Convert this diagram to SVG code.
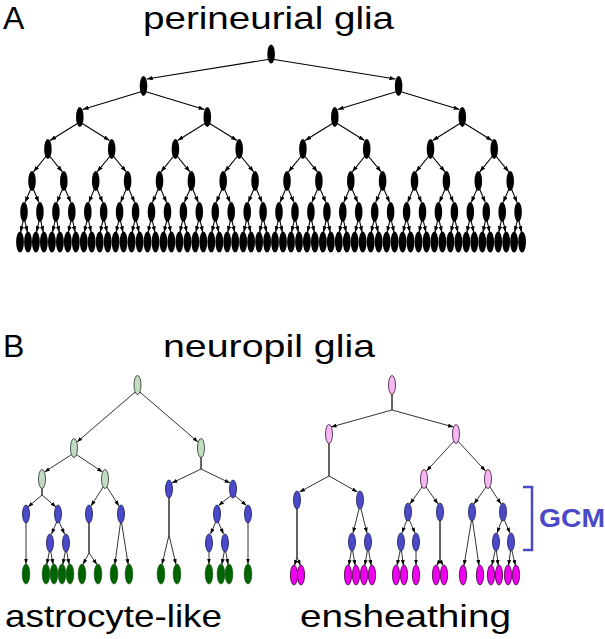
<svg xmlns="http://www.w3.org/2000/svg" width="605" height="639" viewBox="0 0 605 639">
<style>
.t{font-family:"Liberation Sans",Arial,sans-serif;font-size:32px;fill:#000}
.gcm{font-family:"Liberation Sans",Arial,sans-serif;font-size:26px;font-weight:bold;fill:#4a4ac8}
.ea line{stroke:#000;stroke-width:1.1;marker-end:url(#ah)}
.eb line,.eb polyline{stroke:#333;stroke-width:1;fill:none;marker-end:url(#ab)}
.k ellipse{fill:#000}
.lg{fill:#c2dbc2;stroke:#223322;stroke-width:0.8}
.dg{fill:#006400;stroke:#004400;stroke-width:0.6}
.bl{fill:#4a4ac8;stroke:#1a1a50;stroke-width:0.8}
.pk{fill:#f5b8f2;stroke:#331133;stroke-width:0.8}
.mg{fill:#f000f0;stroke:#330033;stroke-width:0.8}
</style>
<defs>
<marker id="ah" viewBox="0 0 6 4.4" refX="6" refY="2.2" markerWidth="6" markerHeight="4.4" markerUnits="userSpaceOnUse" orient="auto"><path d="M0,0L6,2.2L0,4.4z" fill="#000"/></marker>
<marker id="ab" viewBox="0 0 5.5 4" refX="5.5" refY="2" markerWidth="5.5" markerHeight="4" markerUnits="userSpaceOnUse" orient="auto"><path d="M0,0L5.5,2L0,4z" fill="#000"/></marker>
</defs>

<text class="t" x="3" y="29">A</text>
<text class="t" x="143" y="29" textLength="251" lengthAdjust="spacingAndGlyphs">perineurial glia</text>
<text class="t" x="3" y="357">B</text>
<text class="t" x="163" y="357" textLength="212" lengthAdjust="spacingAndGlyphs">neuropil glia</text>
<text class="t" x="5" y="627" textLength="217" lengthAdjust="spacingAndGlyphs">astrocyte-like</text>
<text class="t" x="300" y="627" textLength="211" lengthAdjust="spacingAndGlyphs">ensheathing</text>

<g id="connectors-a" class="ea">
<line x1="271.1" y1="59" x2="146.7" y2="79"/><line x1="271.1" y1="59" x2="395.4" y2="79"/>
<line x1="143.5" y1="91" x2="82.6" y2="109.5"/><line x1="143.5" y1="91" x2="204.5" y2="109.5"/><line x1="398.6" y1="91" x2="337.6" y2="109.5"/><line x1="398.6" y1="91" x2="459.5" y2="109.5"/>
<line x1="79.8" y1="122" x2="50.1" y2="140.5"/><line x1="79.8" y1="122" x2="109.5" y2="140.5"/><line x1="207.3" y1="122" x2="177.6" y2="140.5"/><line x1="207.3" y1="122" x2="237" y2="140.5"/><line x1="334.8" y1="122" x2="305.1" y2="140.5"/><line x1="334.8" y1="122" x2="364.5" y2="140.5"/><line x1="462.3" y1="122" x2="432.7" y2="140.5"/><line x1="462.3" y1="122" x2="492" y2="140.5"/>
<line x1="47.9" y1="154" x2="33.5" y2="171.8"/><line x1="47.9" y1="154" x2="62.3" y2="171.8"/><line x1="111.7" y1="154" x2="97.2" y2="171.8"/><line x1="111.7" y1="154" x2="126.1" y2="171.8"/><line x1="175.4" y1="154" x2="161" y2="171.8"/><line x1="175.4" y1="154" x2="189.9" y2="171.8"/><line x1="239.2" y1="154" x2="224.7" y2="171.8"/><line x1="239.2" y1="154" x2="253.6" y2="171.8"/><line x1="302.9" y1="154" x2="288.5" y2="171.8"/><line x1="302.9" y1="154" x2="317.4" y2="171.8"/><line x1="366.7" y1="154" x2="352.3" y2="171.8"/><line x1="366.7" y1="154" x2="381.1" y2="171.8"/><line x1="430.5" y1="154" x2="416" y2="171.8"/><line x1="430.5" y1="154" x2="444.9" y2="171.8"/><line x1="494.2" y1="154" x2="479.8" y2="171.8"/><line x1="494.2" y1="154" x2="508.7" y2="171.8"/>
<line x1="32" y1="186" x2="25" y2="202.4"/><line x1="32" y1="186" x2="38.9" y2="202.4"/><line x1="63.8" y1="186" x2="56.9" y2="202.4"/><line x1="63.8" y1="186" x2="70.8" y2="202.4"/><line x1="95.7" y1="186" x2="88.8" y2="202.4"/><line x1="95.7" y1="186" x2="102.7" y2="202.4"/><line x1="127.6" y1="186" x2="120.6" y2="202.4"/><line x1="127.6" y1="186" x2="134.6" y2="202.4"/><line x1="159.5" y1="186" x2="152.5" y2="202.4"/><line x1="159.5" y1="186" x2="166.5" y2="202.4"/><line x1="191.4" y1="186" x2="184.4" y2="202.4"/><line x1="191.4" y1="186" x2="198.3" y2="202.4"/><line x1="223.2" y1="186" x2="216.3" y2="202.4"/><line x1="223.2" y1="186" x2="230.2" y2="202.4"/><line x1="255.1" y1="186" x2="248.2" y2="202.4"/><line x1="255.1" y1="186" x2="262.1" y2="202.4"/><line x1="287" y1="186" x2="280" y2="202.4"/><line x1="287" y1="186" x2="294" y2="202.4"/><line x1="318.9" y1="186" x2="311.9" y2="202.4"/><line x1="318.9" y1="186" x2="325.9" y2="202.4"/><line x1="350.8" y1="186" x2="343.8" y2="202.4"/><line x1="350.8" y1="186" x2="357.7" y2="202.4"/><line x1="382.6" y1="186" x2="375.7" y2="202.4"/><line x1="382.6" y1="186" x2="389.6" y2="202.4"/><line x1="414.5" y1="186" x2="407.6" y2="202.4"/><line x1="414.5" y1="186" x2="421.5" y2="202.4"/><line x1="446.4" y1="186" x2="439.4" y2="202.4"/><line x1="446.4" y1="186" x2="453.4" y2="202.4"/><line x1="478.3" y1="186" x2="471.3" y2="202.4"/><line x1="478.3" y1="186" x2="485.3" y2="202.4"/><line x1="510.2" y1="186" x2="503.2" y2="202.4"/><line x1="510.2" y1="186" x2="517.1" y2="202.4"/>
<line x1="24" y1="217" x2="20.6" y2="232.2"/><line x1="24" y1="217" x2="27.4" y2="232.2"/><line x1="39.9" y1="217" x2="36.5" y2="232.2"/><line x1="39.9" y1="217" x2="43.3" y2="232.2"/><line x1="55.9" y1="217" x2="52.5" y2="232.2"/><line x1="55.9" y1="217" x2="59.3" y2="232.2"/><line x1="71.8" y1="217" x2="68.4" y2="232.2"/><line x1="71.8" y1="217" x2="75.2" y2="232.2"/><line x1="87.8" y1="217" x2="84.4" y2="232.2"/><line x1="87.8" y1="217" x2="91.1" y2="232.2"/><line x1="103.7" y1="217" x2="100.3" y2="232.2"/><line x1="103.7" y1="217" x2="107.1" y2="232.2"/><line x1="119.6" y1="217" x2="116.2" y2="232.2"/><line x1="119.6" y1="217" x2="123" y2="232.2"/><line x1="135.6" y1="217" x2="132.2" y2="232.2"/><line x1="135.6" y1="217" x2="139" y2="232.2"/><line x1="151.5" y1="217" x2="148.1" y2="232.2"/><line x1="151.5" y1="217" x2="154.9" y2="232.2"/><line x1="167.5" y1="217" x2="164.1" y2="232.2"/><line x1="167.5" y1="217" x2="170.8" y2="232.2"/><line x1="183.4" y1="217" x2="180" y2="232.2"/><line x1="183.4" y1="217" x2="186.8" y2="232.2"/><line x1="199.3" y1="217" x2="195.9" y2="232.2"/><line x1="199.3" y1="217" x2="202.7" y2="232.2"/><line x1="215.3" y1="217" x2="211.9" y2="232.2"/><line x1="215.3" y1="217" x2="218.7" y2="232.2"/><line x1="231.2" y1="217" x2="227.8" y2="232.2"/><line x1="231.2" y1="217" x2="234.6" y2="232.2"/><line x1="247.2" y1="217" x2="243.8" y2="232.2"/><line x1="247.2" y1="217" x2="250.5" y2="232.2"/><line x1="263.1" y1="217" x2="259.7" y2="232.2"/><line x1="263.1" y1="217" x2="266.5" y2="232.2"/><line x1="279" y1="217" x2="275.6" y2="232.2"/><line x1="279" y1="217" x2="282.4" y2="232.2"/><line x1="295" y1="217" x2="291.6" y2="232.2"/><line x1="295" y1="217" x2="298.4" y2="232.2"/><line x1="310.9" y1="217" x2="307.5" y2="232.2"/><line x1="310.9" y1="217" x2="314.3" y2="232.2"/><line x1="326.9" y1="217" x2="323.5" y2="232.2"/><line x1="326.9" y1="217" x2="330.2" y2="232.2"/><line x1="342.8" y1="217" x2="339.4" y2="232.2"/><line x1="342.8" y1="217" x2="346.2" y2="232.2"/><line x1="358.7" y1="217" x2="355.3" y2="232.2"/><line x1="358.7" y1="217" x2="362.1" y2="232.2"/><line x1="374.7" y1="217" x2="371.3" y2="232.2"/><line x1="374.7" y1="217" x2="378.1" y2="232.2"/><line x1="390.6" y1="217" x2="387.2" y2="232.2"/><line x1="390.6" y1="217" x2="394" y2="232.2"/><line x1="406.6" y1="217" x2="403.2" y2="232.2"/><line x1="406.6" y1="217" x2="409.9" y2="232.2"/><line x1="422.5" y1="217" x2="419.1" y2="232.2"/><line x1="422.5" y1="217" x2="425.9" y2="232.2"/><line x1="438.4" y1="217" x2="435" y2="232.2"/><line x1="438.4" y1="217" x2="441.8" y2="232.2"/><line x1="454.4" y1="217" x2="451" y2="232.2"/><line x1="454.4" y1="217" x2="457.8" y2="232.2"/><line x1="470.3" y1="217" x2="466.9" y2="232.2"/><line x1="470.3" y1="217" x2="473.7" y2="232.2"/><line x1="486.3" y1="217" x2="482.9" y2="232.2"/><line x1="486.3" y1="217" x2="489.6" y2="232.2"/><line x1="502.2" y1="217" x2="498.8" y2="232.2"/><line x1="502.2" y1="217" x2="505.6" y2="232.2"/><line x1="518.1" y1="217" x2="514.7" y2="232.2"/><line x1="518.1" y1="217" x2="521.5" y2="232.2"/>
</g>

<g id="nodes-a" class="k">
<g id="a0"><ellipse cx="271.1" cy="54" rx="3.8" ry="9.5"/></g>
<g id="a1-0"><ellipse cx="143.5" cy="86" rx="3.8" ry="10"/></g><g id="a1-1"><ellipse cx="398.6" cy="86" rx="3.8" ry="10"/></g>
<g id="a2-0"><ellipse cx="79.8" cy="117" rx="3.8" ry="10"/></g><g id="a2-1"><ellipse cx="207.3" cy="117" rx="3.8" ry="10"/></g><g id="a2-2"><ellipse cx="334.8" cy="117" rx="3.8" ry="10"/></g><g id="a2-3"><ellipse cx="462.3" cy="117" rx="3.8" ry="10"/></g>
<g id="a3-0"><ellipse cx="47.9" cy="149" rx="3.8" ry="10"/></g><g id="a3-1"><ellipse cx="111.7" cy="149" rx="3.8" ry="10"/></g><g id="a3-2"><ellipse cx="175.4" cy="149" rx="3.8" ry="10"/></g><g id="a3-3"><ellipse cx="239.2" cy="149" rx="3.8" ry="10"/></g><g id="a3-4"><ellipse cx="302.9" cy="149" rx="3.8" ry="10"/></g><g id="a3-5"><ellipse cx="366.7" cy="149" rx="3.8" ry="10"/></g><g id="a3-6"><ellipse cx="430.5" cy="149" rx="3.8" ry="10"/></g><g id="a3-7"><ellipse cx="494.2" cy="149" rx="3.8" ry="10"/></g>
<g id="a4-0"><ellipse cx="32" cy="181" rx="3.8" ry="10"/></g><g id="a4-1"><ellipse cx="63.8" cy="181" rx="3.8" ry="10"/></g><g id="a4-2"><ellipse cx="95.7" cy="181" rx="3.8" ry="10"/></g><g id="a4-3"><ellipse cx="127.6" cy="181" rx="3.8" ry="10"/></g><g id="a4-4"><ellipse cx="159.5" cy="181" rx="3.8" ry="10"/></g><g id="a4-5"><ellipse cx="191.4" cy="181" rx="3.8" ry="10"/></g><g id="a4-6"><ellipse cx="223.2" cy="181" rx="3.8" ry="10"/></g><g id="a4-7"><ellipse cx="255.1" cy="181" rx="3.8" ry="10"/></g><g id="a4-8"><ellipse cx="287" cy="181" rx="3.8" ry="10"/></g><g id="a4-9"><ellipse cx="318.9" cy="181" rx="3.8" ry="10"/></g><g id="a4-10"><ellipse cx="350.8" cy="181" rx="3.8" ry="10"/></g><g id="a4-11"><ellipse cx="382.6" cy="181" rx="3.8" ry="10"/></g><g id="a4-12"><ellipse cx="414.5" cy="181" rx="3.8" ry="10"/></g><g id="a4-13"><ellipse cx="446.4" cy="181" rx="3.8" ry="10"/></g><g id="a4-14"><ellipse cx="478.3" cy="181" rx="3.8" ry="10"/></g><g id="a4-15"><ellipse cx="510.2" cy="181" rx="3.8" ry="10"/></g>
<g id="a5-0"><ellipse cx="24" cy="212" rx="3.8" ry="10"/></g><g id="a5-1"><ellipse cx="39.9" cy="212" rx="3.8" ry="10"/></g><g id="a5-2"><ellipse cx="55.9" cy="212" rx="3.8" ry="10"/></g><g id="a5-3"><ellipse cx="71.8" cy="212" rx="3.8" ry="10"/></g><g id="a5-4"><ellipse cx="87.8" cy="212" rx="3.8" ry="10"/></g><g id="a5-5"><ellipse cx="103.7" cy="212" rx="3.8" ry="10"/></g><g id="a5-6"><ellipse cx="119.6" cy="212" rx="3.8" ry="10"/></g><g id="a5-7"><ellipse cx="135.6" cy="212" rx="3.8" ry="10"/></g><g id="a5-8"><ellipse cx="151.5" cy="212" rx="3.8" ry="10"/></g><g id="a5-9"><ellipse cx="167.5" cy="212" rx="3.8" ry="10"/></g><g id="a5-10"><ellipse cx="183.4" cy="212" rx="3.8" ry="10"/></g><g id="a5-11"><ellipse cx="199.3" cy="212" rx="3.8" ry="10"/></g><g id="a5-12"><ellipse cx="215.3" cy="212" rx="3.8" ry="10"/></g><g id="a5-13"><ellipse cx="231.2" cy="212" rx="3.8" ry="10"/></g><g id="a5-14"><ellipse cx="247.2" cy="212" rx="3.8" ry="10"/></g><g id="a5-15"><ellipse cx="263.1" cy="212" rx="3.8" ry="10"/></g><g id="a5-16"><ellipse cx="279" cy="212" rx="3.8" ry="10"/></g><g id="a5-17"><ellipse cx="295" cy="212" rx="3.8" ry="10"/></g><g id="a5-18"><ellipse cx="310.9" cy="212" rx="3.8" ry="10"/></g><g id="a5-19"><ellipse cx="326.9" cy="212" rx="3.8" ry="10"/></g><g id="a5-20"><ellipse cx="342.8" cy="212" rx="3.8" ry="10"/></g><g id="a5-21"><ellipse cx="358.7" cy="212" rx="3.8" ry="10"/></g><g id="a5-22"><ellipse cx="374.7" cy="212" rx="3.8" ry="10"/></g><g id="a5-23"><ellipse cx="390.6" cy="212" rx="3.8" ry="10"/></g><g id="a5-24"><ellipse cx="406.6" cy="212" rx="3.8" ry="10"/></g><g id="a5-25"><ellipse cx="422.5" cy="212" rx="3.8" ry="10"/></g><g id="a5-26"><ellipse cx="438.4" cy="212" rx="3.8" ry="10"/></g><g id="a5-27"><ellipse cx="454.4" cy="212" rx="3.8" ry="10"/></g><g id="a5-28"><ellipse cx="470.3" cy="212" rx="3.8" ry="10"/></g><g id="a5-29"><ellipse cx="486.3" cy="212" rx="3.8" ry="10"/></g><g id="a5-30"><ellipse cx="502.2" cy="212" rx="3.8" ry="10"/></g><g id="a5-31"><ellipse cx="518.1" cy="212" rx="3.8" ry="10"/></g>
<g id="a6-0"><ellipse cx="20" cy="242" rx="3.9" ry="10.5"/></g><g id="a6-1"><ellipse cx="28" cy="242" rx="3.9" ry="10.5"/></g><g id="a6-2"><ellipse cx="35.9" cy="242" rx="3.9" ry="10.5"/></g><g id="a6-3"><ellipse cx="43.9" cy="242" rx="3.9" ry="10.5"/></g><g id="a6-4"><ellipse cx="51.9" cy="242" rx="3.9" ry="10.5"/></g><g id="a6-5"><ellipse cx="59.9" cy="242" rx="3.9" ry="10.5"/></g><g id="a6-6"><ellipse cx="67.8" cy="242" rx="3.9" ry="10.5"/></g><g id="a6-7"><ellipse cx="75.8" cy="242" rx="3.9" ry="10.5"/></g><g id="a6-8"><ellipse cx="83.8" cy="242" rx="3.9" ry="10.5"/></g><g id="a6-9"><ellipse cx="91.7" cy="242" rx="3.9" ry="10.5"/></g><g id="a6-10"><ellipse cx="99.7" cy="242" rx="3.9" ry="10.5"/></g><g id="a6-11"><ellipse cx="107.7" cy="242" rx="3.9" ry="10.5"/></g><g id="a6-12"><ellipse cx="115.6" cy="242" rx="3.9" ry="10.5"/></g><g id="a6-13"><ellipse cx="123.6" cy="242" rx="3.9" ry="10.5"/></g><g id="a6-14"><ellipse cx="131.6" cy="242" rx="3.9" ry="10.5"/></g><g id="a6-15"><ellipse cx="139.6" cy="242" rx="3.9" ry="10.5"/></g><g id="a6-16"><ellipse cx="147.5" cy="242" rx="3.9" ry="10.5"/></g><g id="a6-17"><ellipse cx="155.5" cy="242" rx="3.9" ry="10.5"/></g><g id="a6-18"><ellipse cx="163.5" cy="242" rx="3.9" ry="10.5"/></g><g id="a6-19"><ellipse cx="171.4" cy="242" rx="3.9" ry="10.5"/></g><g id="a6-20"><ellipse cx="179.4" cy="242" rx="3.9" ry="10.5"/></g><g id="a6-21"><ellipse cx="187.4" cy="242" rx="3.9" ry="10.5"/></g><g id="a6-22"><ellipse cx="195.3" cy="242" rx="3.9" ry="10.5"/></g><g id="a6-23"><ellipse cx="203.3" cy="242" rx="3.9" ry="10.5"/></g><g id="a6-24"><ellipse cx="211.3" cy="242" rx="3.9" ry="10.5"/></g><g id="a6-25"><ellipse cx="219.3" cy="242" rx="3.9" ry="10.5"/></g><g id="a6-26"><ellipse cx="227.2" cy="242" rx="3.9" ry="10.5"/></g><g id="a6-27"><ellipse cx="235.2" cy="242" rx="3.9" ry="10.5"/></g><g id="a6-28"><ellipse cx="243.2" cy="242" rx="3.9" ry="10.5"/></g><g id="a6-29"><ellipse cx="251.1" cy="242" rx="3.9" ry="10.5"/></g><g id="a6-30"><ellipse cx="259.1" cy="242" rx="3.9" ry="10.5"/></g><g id="a6-31"><ellipse cx="267.1" cy="242" rx="3.9" ry="10.5"/></g><g id="a6-32"><ellipse cx="275" cy="242" rx="3.9" ry="10.5"/></g><g id="a6-33"><ellipse cx="283" cy="242" rx="3.9" ry="10.5"/></g><g id="a6-34"><ellipse cx="291" cy="242" rx="3.9" ry="10.5"/></g><g id="a6-35"><ellipse cx="299" cy="242" rx="3.9" ry="10.5"/></g><g id="a6-36"><ellipse cx="306.9" cy="242" rx="3.9" ry="10.5"/></g><g id="a6-37"><ellipse cx="314.9" cy="242" rx="3.9" ry="10.5"/></g><g id="a6-38"><ellipse cx="322.9" cy="242" rx="3.9" ry="10.5"/></g><g id="a6-39"><ellipse cx="330.8" cy="242" rx="3.9" ry="10.5"/></g><g id="a6-40"><ellipse cx="338.8" cy="242" rx="3.9" ry="10.5"/></g><g id="a6-41"><ellipse cx="346.8" cy="242" rx="3.9" ry="10.5"/></g><g id="a6-42"><ellipse cx="354.7" cy="242" rx="3.9" ry="10.5"/></g><g id="a6-43"><ellipse cx="362.7" cy="242" rx="3.9" ry="10.5"/></g><g id="a6-44"><ellipse cx="370.7" cy="242" rx="3.9" ry="10.5"/></g><g id="a6-45"><ellipse cx="378.7" cy="242" rx="3.9" ry="10.5"/></g><g id="a6-46"><ellipse cx="386.6" cy="242" rx="3.9" ry="10.5"/></g><g id="a6-47"><ellipse cx="394.6" cy="242" rx="3.9" ry="10.5"/></g><g id="a6-48"><ellipse cx="402.6" cy="242" rx="3.9" ry="10.5"/></g><g id="a6-49"><ellipse cx="410.5" cy="242" rx="3.9" ry="10.5"/></g><g id="a6-50"><ellipse cx="418.5" cy="242" rx="3.9" ry="10.5"/></g><g id="a6-51"><ellipse cx="426.5" cy="242" rx="3.9" ry="10.5"/></g><g id="a6-52"><ellipse cx="434.4" cy="242" rx="3.9" ry="10.5"/></g><g id="a6-53"><ellipse cx="442.4" cy="242" rx="3.9" ry="10.5"/></g><g id="a6-54"><ellipse cx="450.4" cy="242" rx="3.9" ry="10.5"/></g><g id="a6-55"><ellipse cx="458.4" cy="242" rx="3.9" ry="10.5"/></g><g id="a6-56"><ellipse cx="466.3" cy="242" rx="3.9" ry="10.5"/></g><g id="a6-57"><ellipse cx="474.3" cy="242" rx="3.9" ry="10.5"/></g><g id="a6-58"><ellipse cx="482.3" cy="242" rx="3.9" ry="10.5"/></g><g id="a6-59"><ellipse cx="490.2" cy="242" rx="3.9" ry="10.5"/></g><g id="a6-60"><ellipse cx="498.2" cy="242" rx="3.9" ry="10.5"/></g><g id="a6-61"><ellipse cx="506.2" cy="242" rx="3.9" ry="10.5"/></g><g id="a6-62"><ellipse cx="514.1" cy="242" rx="3.9" ry="10.5"/></g><g id="a6-63"><ellipse cx="522.1" cy="242" rx="3.9" ry="10.5"/></g>
</g>

<g id="connectors-b" class="eb">
<line x1="137.5" y1="390" x2="77" y2="442"/>
<line x1="137.5" y1="390" x2="198" y2="442"/>
<line x1="74" y1="453" x2="44.5" y2="472"/>
<line x1="74" y1="453" x2="102.5" y2="472"/>
<polyline points="201,453 201,469 172,483"/>
<polyline points="201,453 201,469 230,483"/>
<polyline points="42,484 42,495 28,507"/>
<polyline points="42,484 42,495 56,507"/>
<line x1="105" y1="484" x2="91" y2="506"/>
<line x1="105" y1="484" x2="119" y2="506"/>
<line x1="26" y1="519" x2="26" y2="564"/>
<line x1="58" y1="519" x2="51.5" y2="534"/>
<line x1="58" y1="519" x2="64.5" y2="534"/>
<line x1="50" y1="548" x2="46.8" y2="564.5"/>
<line x1="50" y1="548" x2="53.2" y2="564.5"/>
<line x1="66" y1="548" x2="62.8" y2="564.5"/>
<line x1="66" y1="548" x2="69.2" y2="564.5"/>
<polyline points="89,519 89,553 83,564.5"/>
<polyline points="89,519 89,553 97,564.5"/>
<line x1="121" y1="519" x2="114.8" y2="564.5"/>
<line x1="121" y1="519" x2="128.2" y2="564.5"/>
<polyline points="169,494 169,535 162,564.5"/>
<polyline points="169,494 169,535 176,564.5"/>
<line x1="233" y1="494" x2="218.5" y2="505.5"/>
<line x1="233" y1="494" x2="246.5" y2="505.5"/>
<line x1="217" y1="519" x2="210.5" y2="534"/>
<line x1="217" y1="519" x2="223.5" y2="534"/>
<line x1="209" y1="548" x2="209" y2="564"/>
<line x1="225" y1="548" x2="221.8" y2="564.5"/>
<line x1="225" y1="548" x2="228.2" y2="564.5"/>
<line x1="248" y1="519" x2="248" y2="564"/>
<polyline points="392,390 392,410 331,427"/>
<polyline points="392,390 392,410 453.5,427"/>
<polyline points="329,439 329,476 299.5,492"/>
<polyline points="329,439 329,476 357.5,492"/>
<line x1="456" y1="439" x2="426.5" y2="471"/>
<line x1="456" y1="439" x2="485.5" y2="471"/>
<line x1="424" y1="484" x2="410" y2="504"/>
<line x1="424" y1="484" x2="438" y2="504"/>
<line x1="488" y1="484" x2="474" y2="504"/>
<line x1="488" y1="484" x2="501" y2="504"/>
<polyline points="297,505 297,557 294.5,565.5"/>
<polyline points="297,505 297,557 300.5,565.5"/>
<line x1="360" y1="505" x2="353" y2="533"/>
<line x1="360" y1="505" x2="367" y2="533"/>
<line x1="352" y1="547" x2="348.8" y2="565.5"/>
<line x1="352" y1="547" x2="355.2" y2="565.5"/>
<line x1="368" y1="547" x2="364.8" y2="565.5"/>
<line x1="368" y1="547" x2="371.2" y2="565.5"/>
<line x1="408" y1="517" x2="402" y2="533"/>
<line x1="408" y1="517" x2="415" y2="533"/>
<line x1="401" y1="547" x2="397" y2="565.5"/>
<line x1="401" y1="547" x2="403.4" y2="565.5"/>
<line x1="416" y1="547" x2="416" y2="565"/>
<polyline points="440,517 440,560 436.8,565.5"/>
<polyline points="440,517 440,560 443.2,565.5"/>
<line x1="472" y1="517" x2="464" y2="565.5"/>
<line x1="472" y1="517" x2="479" y2="565.5"/>
<line x1="503" y1="517" x2="497" y2="533"/>
<line x1="503" y1="517" x2="510" y2="533"/>
<line x1="496" y1="547" x2="491.8" y2="565.5"/>
<line x1="496" y1="547" x2="498.2" y2="565.5"/>
<line x1="511" y1="547" x2="508.6" y2="565.5"/>
<line x1="511" y1="547" x2="515.4" y2="565.5"/>
</g>

<g id="nodes-b">
<g id="g0"><ellipse class="lg" cx="137.5" cy="385" rx="3.5" ry="9.5"/></g>
<g id="g1a"><ellipse class="lg" cx="74" cy="448" rx="3.5" ry="9.5"/></g>
<g id="g1b"><ellipse class="lg" cx="201" cy="448" rx="3.5" ry="9.5"/></g>
<g id="g2a"><ellipse class="lg" cx="42" cy="479" rx="3.5" ry="9.5"/></g>
<g id="g2b"><ellipse class="lg" cx="105" cy="479" rx="3.5" ry="9.5"/></g>
<g id="ab1"><ellipse class="bl" cx="26" cy="514" rx="3.5" ry="9"/></g>
<g id="ab2"><ellipse class="bl" cx="58" cy="514" rx="3.5" ry="9"/></g>
<g id="ab3"><ellipse class="bl" cx="89" cy="514" rx="3.5" ry="9"/></g>
<g id="ab4"><ellipse class="bl" cx="121" cy="514" rx="3.5" ry="9"/></g>
<g id="ab5"><ellipse class="bl" cx="169" cy="489" rx="3.5" ry="9"/></g>
<g id="ab6"><ellipse class="bl" cx="233" cy="489" rx="3.5" ry="9"/></g>
<g id="ab7"><ellipse class="bl" cx="217" cy="514" rx="3.5" ry="9"/></g>
<g id="ab8"><ellipse class="bl" cx="248" cy="514" rx="3.5" ry="9"/></g>
<g id="ab9"><ellipse class="bl" cx="50" cy="543" rx="3.5" ry="9"/></g>
<g id="ab10"><ellipse class="bl" cx="66" cy="543" rx="3.5" ry="9"/></g>
<g id="ab11"><ellipse class="bl" cx="209" cy="543" rx="3.5" ry="9"/></g>
<g id="ab12"><ellipse class="bl" cx="225" cy="543" rx="3.5" ry="9"/></g>
<g id="al1"><ellipse class="dg" cx="26" cy="574" rx="3.8" ry="10"/></g>
<g id="al2"><ellipse class="dg" cx="46" cy="574" rx="3.8" ry="10"/></g>
<g id="al3"><ellipse class="dg" cx="54" cy="574" rx="3.8" ry="10"/></g>
<g id="al4"><ellipse class="dg" cx="62" cy="574" rx="3.8" ry="10"/></g>
<g id="al5"><ellipse class="dg" cx="70" cy="574" rx="3.8" ry="10"/></g>
<g id="al6"><ellipse class="dg" cx="82" cy="574" rx="3.8" ry="10"/></g>
<g id="al7"><ellipse class="dg" cx="98" cy="574" rx="3.8" ry="10"/></g>
<g id="al8"><ellipse class="dg" cx="114" cy="574" rx="3.8" ry="10"/></g>
<g id="al9"><ellipse class="dg" cx="129" cy="574" rx="3.8" ry="10"/></g>
<g id="al10"><ellipse class="dg" cx="161" cy="574" rx="3.8" ry="10"/></g>
<g id="al11"><ellipse class="dg" cx="177" cy="574" rx="3.8" ry="10"/></g>
<g id="al12"><ellipse class="dg" cx="209" cy="574" rx="3.8" ry="10"/></g>
<g id="al13"><ellipse class="dg" cx="221" cy="574" rx="3.8" ry="10"/></g>
<g id="al14"><ellipse class="dg" cx="229" cy="574" rx="3.8" ry="10"/></g>
<g id="al15"><ellipse class="dg" cx="248" cy="574" rx="3.8" ry="10"/></g>

<g id="p0"><ellipse class="pk" cx="392" cy="385" rx="3.5" ry="9.5"/></g>
<g id="p1a"><ellipse class="pk" cx="329" cy="434" rx="3.5" ry="9.5"/></g>
<g id="p1b"><ellipse class="pk" cx="456" cy="434" rx="3.5" ry="9.5"/></g>
<g id="p2a"><ellipse class="pk" cx="424" cy="479" rx="3.5" ry="9.5"/></g>
<g id="p2b"><ellipse class="pk" cx="488" cy="479" rx="3.5" ry="9.5"/></g>
<g id="eb1"><ellipse class="bl" cx="297" cy="500" rx="3.5" ry="9"/></g>
<g id="eb2"><ellipse class="bl" cx="360" cy="500" rx="3.5" ry="9"/></g>
<g id="eb3"><ellipse class="bl" cx="408" cy="512" rx="3.5" ry="9"/></g>
<g id="eb4"><ellipse class="bl" cx="440" cy="512" rx="3.5" ry="9"/></g>
<g id="eb5"><ellipse class="bl" cx="472" cy="512" rx="3.5" ry="9"/></g>
<g id="eb6"><ellipse class="bl" cx="503" cy="512" rx="3.5" ry="9"/></g>
<g id="eb7"><ellipse class="bl" cx="352" cy="542" rx="3.5" ry="9"/></g>
<g id="eb8"><ellipse class="bl" cx="368" cy="542" rx="3.5" ry="9"/></g>
<g id="eb9"><ellipse class="bl" cx="401" cy="542" rx="3.5" ry="9"/></g>
<g id="eb10"><ellipse class="bl" cx="416" cy="542" rx="3.5" ry="9"/></g>
<g id="eb11"><ellipse class="bl" cx="496" cy="542" rx="3.5" ry="9"/></g>
<g id="eb12"><ellipse class="bl" cx="511" cy="542" rx="3.5" ry="9"/></g>
<g id="el1"><ellipse class="mg" cx="294" cy="575" rx="3.6" ry="10"/></g>
<g id="el2"><ellipse class="mg" cx="301" cy="575" rx="3.6" ry="10"/></g>
<g id="el3"><ellipse class="mg" cx="348" cy="575" rx="3.6" ry="10"/></g>
<g id="el4"><ellipse class="mg" cx="356" cy="575" rx="3.6" ry="10"/></g>
<g id="el5"><ellipse class="mg" cx="364" cy="575" rx="3.6" ry="10"/></g>
<g id="el6"><ellipse class="mg" cx="372" cy="575" rx="3.6" ry="10"/></g>
<g id="el7"><ellipse class="mg" cx="396" cy="575" rx="3.6" ry="10"/></g>
<g id="el8"><ellipse class="mg" cx="404" cy="575" rx="3.6" ry="10"/></g>
<g id="el9"><ellipse class="mg" cx="416" cy="575" rx="3.6" ry="10"/></g>
<g id="el10"><ellipse class="mg" cx="436" cy="575" rx="3.6" ry="10"/></g>
<g id="el11"><ellipse class="mg" cx="444" cy="575" rx="3.6" ry="10"/></g>
<g id="el12"><ellipse class="mg" cx="463" cy="575" rx="3.6" ry="10"/></g>
<g id="el13"><ellipse class="mg" cx="480" cy="575" rx="3.6" ry="10"/></g>
<g id="el14"><ellipse class="mg" cx="491" cy="575" rx="3.6" ry="10"/></g>
<g id="el15"><ellipse class="mg" cx="499" cy="575" rx="3.6" ry="10"/></g>
<g id="el16"><ellipse class="mg" cx="508" cy="575" rx="3.6" ry="10"/></g>
<g id="el17"><ellipse class="mg" cx="516" cy="575" rx="3.6" ry="10"/></g>
</g>

<g id="gcm">
<path d="M523,487H532V550H523" fill="none" stroke="#4a4ac8" stroke-width="2.5"/>
<text class="gcm" x="539" y="527" textLength="66" lengthAdjust="spacingAndGlyphs">GCM</text>
</g>
</svg>
